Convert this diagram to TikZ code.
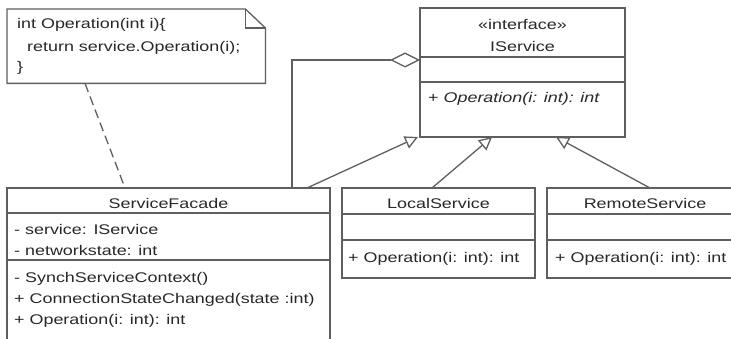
\documentclass[tikz,border=0pt]{standalone}
\usepackage{fontspec}
\setmainfont{Liberation Sans}[FakeStretch=1.28]
\usetikzlibrary{arrows.meta,calc}
\definecolor{ln}{RGB}{95,95,95}
\definecolor{tx}{RGB}{40,40,40}
\begin{document}
\begin{tikzpicture}[x=1pt,y=-1pt,
  box/.style={draw=ln, line width=1.3pt, fill=white, rectangle, inner sep=0pt, outer sep=0pt, anchor=north west},
  txt/.style={inner sep=0pt, text=tx, font=\fontsize{14}{17}\selectfont},
  divider/.style={draw=ln, line width=1.3pt},
  gen/.style={draw=ln, line width=1.3pt, -{Triangle[open, length=13pt, width=13pt, fill=white]}},
  agg/.style={draw=ln, line width=1.3pt, -{Diamond[open, length=30pt, width=15pt, fill=white]}},
  link/.style={draw=ln, line width=1.3pt, dash pattern=on 9pt off 5pt}
]
\useasboundingbox (0,0) rectangle (731,339);
\fill[white] (0,0) rectangle (731,339);
\clip (0,0) rectangle (731,339);

% note
\node[inner sep=0pt, minimum width=258pt, minimum height=74pt, anchor=north west] (note) at (7,9) {};
\draw[ln, line width=1.3pt, fill=white] (note.north west) -- ([xshift=-20pt]note.north east) -- ([yshift=-19pt]note.north east) -- (note.south east) -- (note.south west) -- cycle;
\draw[ln, line width=1.3pt] ([xshift=-20pt]note.north east) -- ([xshift=-20pt,yshift=-19pt]note.north east) -- ([yshift=-19pt]note.north east);
\node[txt, anchor=base west] (n1) at (17,29) {int Operation(int i)\{};
\node[txt, anchor=base west] (n2) at (27,52) {return service.Operation(i);};
\node[txt, anchor=base west] (n3) at (17,72) {\}};

% IService
\node[box, minimum width=205pt, minimum height=129pt] (is) at (420,8) {};
\draw[divider] (420,57) -- (625,57);
\draw[divider] (420,82) -- (625,82);
\node[txt, anchor=base] (isst) at (522.5,30) {«interface»};
\node[txt, anchor=base] (isname) at (522.5,52) {IService};
\node[txt, anchor=base west] (isop) at (428,103) {+ \textit{Operation(i: int): int}};

% ServiceFacade
\node[box, minimum width=323pt, minimum height=160pt] (sf) at (7,188) {};
\draw[divider] (7,213) -- (330,213);
\draw[divider] (7,260) -- (330,260);
\node[txt, anchor=base] (sfname) at (168.5,209) {ServiceFacade};
\node[txt, anchor=base west] (sfa1) at (14,235) {- service: IService};
\node[txt, anchor=base west] (sfa2) at (14,255) {- networkstate: int};
\node[txt, anchor=base west] (sfm1) at (14,282) {- SynchServiceContext()};
\node[txt, anchor=base west] (sfm2) at (14,303) {+ ConnectionStateChanged(state :int)};
\node[txt, anchor=base west] (sfm3) at (14,324) {+ Operation(i: int): int};

% LocalService
\node[box, minimum width=193pt, minimum height=90pt] (ls) at (342,188) {};
\draw[divider] (342,214) -- (535,214);
\draw[divider] (342,240) -- (535,240);
\node[txt, anchor=base] (lsname) at (438.5,209) {LocalService};
\node[txt, anchor=base west] (lsop) at (348,262) {+ Operation(i: int): int};

% RemoteService
\node[box, minimum width=196pt, minimum height=90pt] (rs) at (547,188) {};
\draw[divider] (547,214) -- (743,214);
\draw[divider] (547,240) -- (743,240);
\node[txt, anchor=base] (rsname) at (645,209) {RemoteService};
\node[txt, anchor=base west] (rsop) at (555,262) {+ Operation(i: int): int};

% connectors
\draw[link] ([xshift=78pt]note.south west) -- ([xshift=118pt]sf.north west);
\draw[agg] ([xshift=285pt]sf.north west) |- ([yshift=-52pt]is.north west);
\draw[gen] ([xshift=300pt]sf.north west) -- ([xshift=-2pt]is.south west);
\draw[gen] ([xshift=90pt]ls.north west) -- ([xshift=72pt]is.south west);
\draw[gen] ([xshift=103pt]rs.north west) -- ([xshift=136pt]is.south west);
\end{tikzpicture}
\end{document}
